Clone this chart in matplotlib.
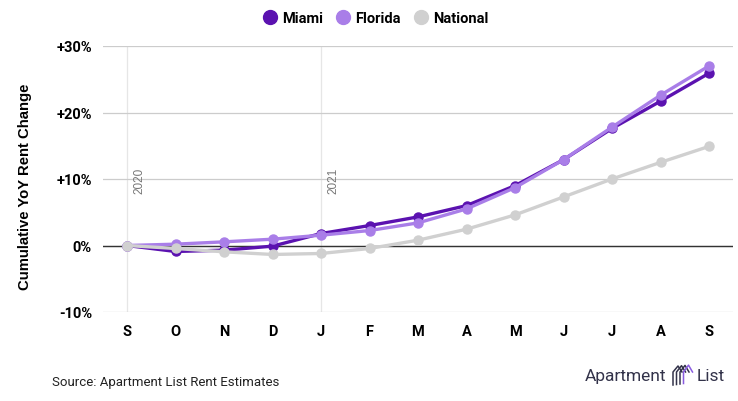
import numpy as np
import matplotlib.pyplot as plt

# donnees (variation cumulee en %)
months = ['S', 'O', 'N', 'D', 'J', 'F', 'M', 'A', 'M', 'J', 'J', 'A', 'S']
miami = [0.0, -0.9, -0.7, -0.1, 1.8, 3.0, 4.3, 6.0, 9.0, 12.9, 17.6, 21.7, 25.9]
florida = [0.0, 0.2, 0.55, 0.95, 1.55, 2.25, 3.4, 5.5, 8.7, 12.9, 17.8, 22.6, 27.0]
national = [0.0, -0.45, -0.95, -1.35, -1.2, -0.45, 0.8, 2.45, 4.6, 7.3, 10.0, 12.5, 14.9]
yticks = [-10, 0, 10, 20, 30]
ytick_labels = ['-10%', '0%', '+10%', '+20%', '+30%']
years = {0: '2020', 4: '2021'}

W, H = 738, 402
fig = plt.figure(figsize=(W / 100, H / 100), dpi=100)
ax = fig.add_axes([103 / W, 1 - 313 / H, 630 / W, 266 / H])

x = np.arange(len(months))
series = [('Miami', miami, '#5b12b0'), ('Florida', florida, '#a97ee8'), ('National', national, '#d0d0d0')]
for name, vals, col in series:
    ax.plot(x, vals, color=col, lw=2.4, marker='o', ms=6.5, label=name, zorder=3)

ax.set_xlim(-24 / 48.5, 12 + 24 / 48.5)
ax.set_ylim(-10, 30)
ax.set_yticks(yticks)
ax.set_yticklabels(ytick_labels, fontfamily='Roboto', fontweight='bold', fontsize=10.5)
ax.set_xticks(x)
ax.set_xticklabels(months, fontfamily='Roboto', fontweight='bold', fontsize=10.5)
ax.tick_params(axis='both', length=0)
ax.tick_params(axis='y', pad=8)
ax.tick_params(axis='x', pad=9)
for s in ax.spines.values():
    s.set_visible(False)
ax.grid(axis='y', color='#cccccc', lw=0.9)
ax.axhline(0, color='#333333', lw=1.0, zorder=2)

# lignes verticales des annees
for xi, lab in years.items():
    ax.axvline(xi, color='#e6e6e6', lw=0.9, zorder=1)
    ax.text(xi + 0.13, 9.9, lab, rotation=90, color='#777777', fontsize=8.5,
            ha='left', va='center', fontfamily='Liberation Sans')

fig.text(25 / W, 1 - 187 / H, 'Cumulative YoY Rent Change', rotation=90,
         fontfamily='Liberation Sans', fontweight='bold', fontsize=10.7,
         ha='center', va='center')

handles, labels = ax.get_legend_handles_labels()
leg = fig.legend(handles, labels, loc='center', bbox_to_anchor=(377 / W, 1 - 19 / H),
                 ncol=3, frameon=False, handlelength=0.6, handletextpad=0.5, columnspacing=1.1,
                 prop={'family': 'Roboto', 'weight': 'bold', 'size': 10.5})
for h in leg.legend_handles:
    h.set_linestyle('')
    h.set_markersize(10)

fig.text(52 / W, 1 - 383 / H, 'Source: Apartment List Rent Estimates', fontsize=9.5,
         fontfamily='Roboto', color='#222222', va='center')
fig.text(585 / W, 1 - 377 / H, 'Apartment', fontsize=12.5, fontfamily='Roboto',
         color='#33334a', va='center')
fig.text(697 / W, 1 - 377 / H, 'List', fontsize=12.5, fontfamily='Roboto',
         color='#33334a', va='center')
# petit logo
for i, c in enumerate(['#33334a', '#33334a', '#33334a', '#8a5ce0']):
    x0 = 673 + i * 3.5
    px = [x0, x0, x0 + 5, x0 + 9]
    py = [386 - i * 0.5, 373, 367 - i * 0.3, 373]
    fig.add_artist(plt.Line2D([p / W for p in px], [1 - p / H for p in py], color=c, lw=1.1))

fig.savefig('out.png', dpi=100)
